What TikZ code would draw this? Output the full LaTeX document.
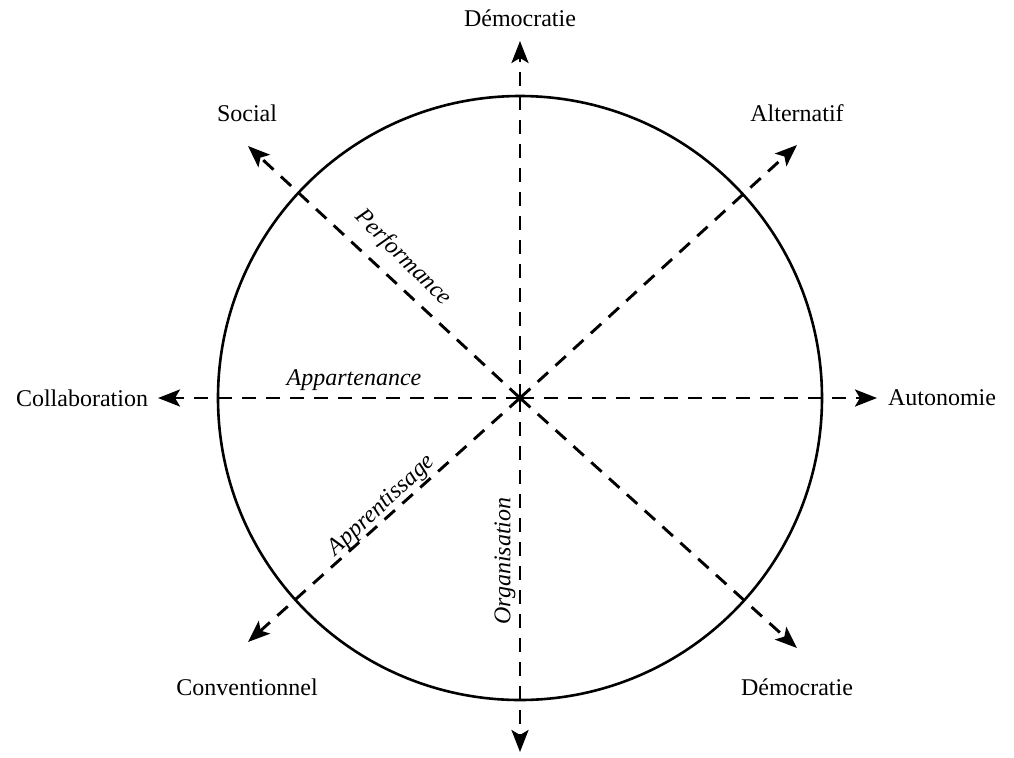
\documentclass[tikz,border=0pt]{standalone}
\usepackage{fontspec}
\setmainfont{Liberation Serif}
\usepackage{tikz}
\usetikzlibrary{arrows.meta}
\tikzset{
  axis/.style={-{Stealth[length=11pt,width=8.5pt,inset=2.5pt]},line width=1.45pt,
    dash pattern=on 7pt off 5pt},
  pole/.style={font=\fontsize{12}{14}\selectfont,inner sep=1pt},
  dim/.style={font=\fontsize{12}{14}\selectfont\itshape,inner sep=1pt}
}

\begin{document}
\begin{tikzpicture}[x=0.5pt,y=-0.5pt]
  \useasboundingbox (0,0) rectangle (1014,757);
  \coordinate (c) at (520,398);
  \draw[line width=1.3pt] (c) circle[radius=151pt];

  % ends of the axes
  \coordinate (tN) at (520,41);
  \coordinate (tS) at (520,752);
  \coordinate (tW) at (158,398);
  \coordinate (tE) at (877,398);
  \coordinate (tNW) at (248,146);
  \coordinate (tNE) at (797,145);
  \coordinate (tSW) at (248,642);
  \coordinate (tSE) at (797,648);

  \foreach \t in {tN,tS,tW,tE,tNW,tNE,tSW,tSE}
    \draw[axis] (c) -- (\t);

  % poles
  \node[pole] (demo1) at (520,18) {Démocratie};
  \node[pole] (social) at (247,113) {Social};
  \node[pole] (alter) at (797,113) {Alternatif};
  \node[pole] (collab) at (82,398) {Collaboration};
  \node[pole] (auto) at (942,398) {Autonomie};
  \node[pole] (conv) at (247,687) {Conventionnel};
  \node[pole] (demo2) at (797,687) {Démocratie};

  % dimensions
  \node[dim,rotate=-45] (perf) at (403,258) {Performance};
  \node[dim] (appart) at (354,380) {Appartenance};
  \node[dim,rotate=43] (appren) at (382,506) {Apprentissage};
  \node[dim,rotate=90] (orga) at (505,561) {Organisation};
\end{tikzpicture}
\end{document}
